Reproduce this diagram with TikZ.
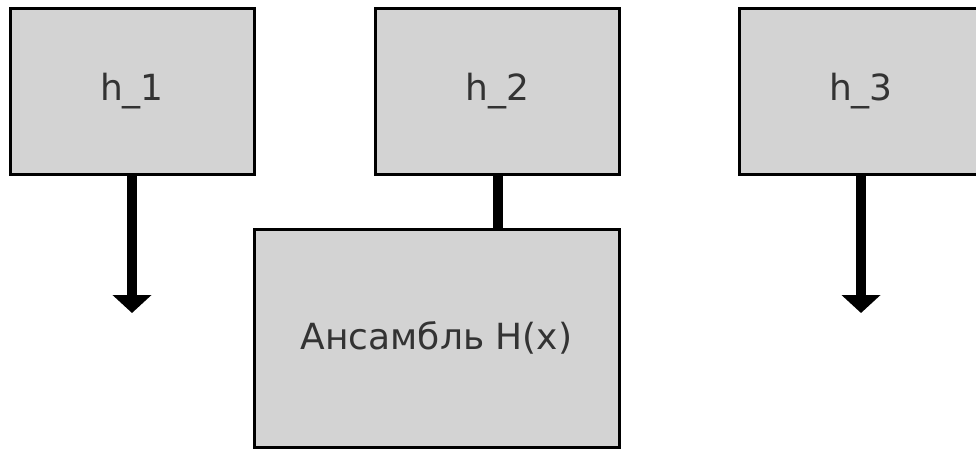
\documentclass[tikz,border=0pt]{standalone}
\usepackage{fontspec}
\setmainfont{DejaVu Sans}
\usetikzlibrary{arrows.meta}
\definecolor{boxfill}{HTML}{D3D3D3}
\definecolor{txt}{HTML}{333333}
\tikzset{
  hbox/.style={draw=black, fill=boxfill, line width=3pt, inner sep=0pt,
    minimum width=244pt, minimum height=166pt, text=txt,
    font=\fontsize{36}{42}\selectfont},
  bigarrow/.style={line width=10pt, -{Triangle[width=38pt,length=18pt]}},
  link/.style={line width=10pt}
}
\begin{document}
\begin{tikzpicture}[x=1pt,y=-1pt]
\useasboundingbox (0,0) rectangle (976,450);
\clip (0,0) rectangle (976,450);
\node[hbox] (h1) at (132,91) {h\_1};
\node[hbox] (h2) at (497.5,91) {h\_2};
\node[hbox] (h3) at (861,91) {h\_3};
\node[hbox, minimum width=365pt, minimum height=218pt] (ens) at (436.5,338) {Ансамбль H(x)};
\coordinate (e1) at (132,313);
\coordinate (e3) at (861,313);
\draw[bigarrow] (h1.south) -- (e1);
\draw[bigarrow] (h3.south) -- (e3);
\draw[link] (h2.south) -- (h2.south |- ens.north);
\end{tikzpicture}
\end{document}
